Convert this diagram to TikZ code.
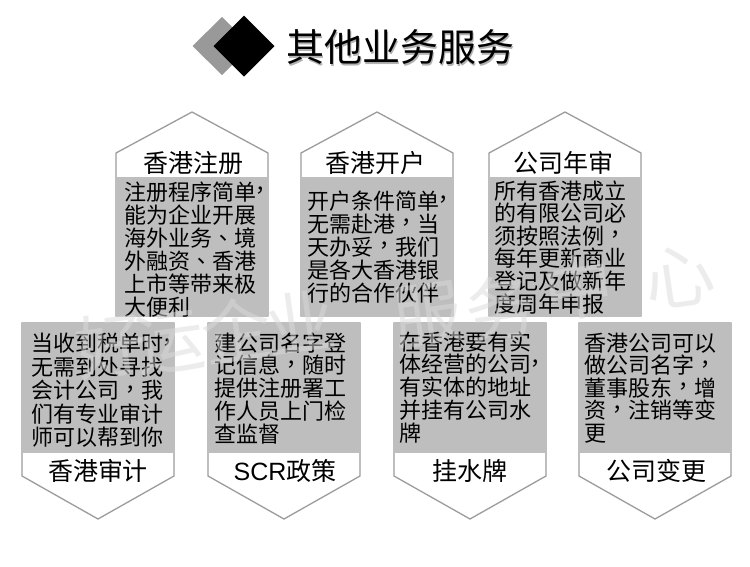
\documentclass[tikz,border=0pt]{standalone}
\usepackage{fontspec}
\setmainfont{Noto Sans CJK SC}
\newfontfamily\tcfont{Noto Sans CJK TC}
\newfontfamily\latfont{Liberation Sans}
\newcommand\cma{\raisebox{0.06em}{\tcfont ，}}
\newcommand\cmb{\kern-0.3em\raisebox{0.05em}{\tcfont ，}}
\newcommand\dun{{\tcfont 、}}
\definecolor{boxgray}{HTML}{BEBEBE}
\definecolor{linegray}{HTML}{9C9C9C}
\definecolor{diagray}{HTML}{999999}
\definecolor{wmgray}{HTML}{DADADA}
\tikzset{
  boxline/.style={draw=linegray, line width=1.3pt, fill=white, line join=miter},
  graybody/.style={fill=boxgray, draw=none},
  bodytext/.style={anchor=base west, inner sep=0pt, font=\fontsize{22}{23}\selectfont},
  headtext/.style={anchor=base, inner sep=0pt, font=\fontsize{25}{25}\selectfont},
  titletext/.style={anchor=base, inner sep=0pt, font=\fontsize{38}{38}\selectfont},
  wm/.style={inner sep=0pt, text=wmgray, text opacity=0.5, rotate=8, font=\fontsize{70}{70}\selectfont},
}
\newcommand\topbox[1]{%
  \draw[boxline] ({#1-76},316) -- ({#1-76},153) -- (#1,112) -- ({#1+76},153) -- ({#1+76},316) -- cycle;
  \fill[graybody] ({#1-76},177) rectangle ({#1+76},316);}
\newcommand\botbox[1]{%
  \draw[boxline] ({#1-76},323) -- ({#1-76},476) -- (#1,519) -- ({#1+76},476) -- ({#1+76},323) -- cycle;
  \fill[graybody] ({#1-76},323) rectangle ({#1+76},453);}
\newcommand\bodylines[5]{%
  \foreach \t [count=\i from 0] in {#5} {\node[bodytext] (#3-\i) at (#1,{#2+#4*\i}) {\t};}}
\begin{document}
\begin{tikzpicture}[x=1pt,y=-1pt]
\fill[white] (0,0) rectangle (750,566);
\useasboundingbox (0,0) rectangle (750,566);
% title
\fill[diagray] (222,17) -- (251.5,46) -- (222,75) -- (192.5,46) -- cycle;
\fill[black] (244,15.5) -- (274.5,46) -- (244,76.5) -- (213.5,46) -- cycle;
\node[titletext, text=black!30] (titleshadow) at (401.5,63) {其他业务服务};
\node[titletext] (title) at (400,61.5) {其他业务服务};
% boxes
\topbox{192}\topbox{377}\topbox{565}
\botbox{98}\botbox{284}\botbox{470}\botbox{655}
% headers
\node[headtext] (h1) at (193,172.5) {香港注册};
\node[headtext] (h2) at (375,172.5) {香港开户};
\node[headtext] (h3) at (563,172.5) {公司年审};
\node[headtext] (f1) at (98,480.5) {香港审计};
\node[headtext] (f2) at (285,480.5) {{\latfont SCR}政策};
\node[headtext] (f3) at (470,480.5) {挂水牌};
\node[headtext] (f4) at (656,480.5) {公司变更};
% body texts
\bodylines{124}{200}{b1}{23}{注册程序简单\cmb, 能为企业开展, 海外业务\dun 境, 外融资\dun 香港, 上市等带来极, 大便利}
\bodylines{307}{209}{b2}{23}{开户条件简单\cmb, 无需赴港\cma 当, 天办妥\cma 我们, 是各大香港银, 行的合作伙伴}
\bodylines{494}{199}{b3}{22.6}{所有香港成立, 的有限公司必, 须按照法例\cma, 每年更新商业, 登记及做新年, 度周年申报}
\bodylines{31}{351.5}{b4}{23.5}{当收到税单时\cmb, 无需到处寻找, 会计公司\cma 我, 们有专业审计, 师可以帮到你}
\bodylines{214}{351}{b5}{22.8}{建公司名字登, 记信息\cma 随时, 提供注册署工, 作人员上门检, 查监督}
\bodylines{399}{350}{b6}{22.8}{在香港要有实, 体经营的公司\cmb, 有实体的地址, 并挂有公司水, 牌}
\bodylines{584}{351}{b7}{22.5}{香港公司可以, 做公司名字\cma, 董事股东\cma 增, 资\cma 注销等变, 更}
% watermark
\foreach \c/\x/\y [count=\i] in {好/110/345, 运/170/343, 企/236/330, 业/300/322, 服/428/315, 务/500/308, 中/578/287, 心/680/277}
  {\node[wm] (wm\i) at (\x,\y) {\c};}
\end{tikzpicture}
\end{document}
